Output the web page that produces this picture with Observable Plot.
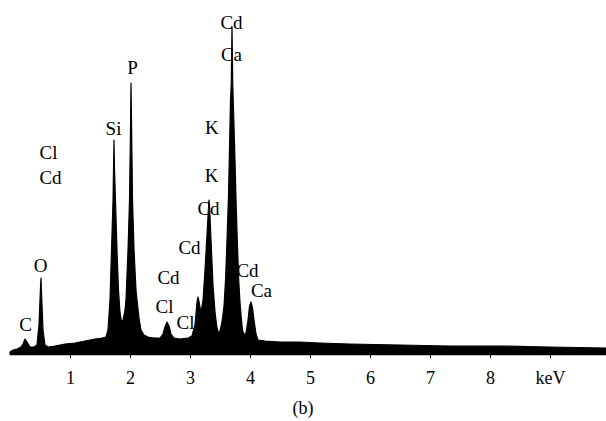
<!DOCTYPE html>
<html>
<head>
<meta charset="utf-8">
<script src="https://cdn.jsdelivr.net/npm/d3@7"></script>
<script src="https://cdn.jsdelivr.net/npm/@observablehq/plot@0.6"></script>
<style>
  html, body { margin: 0; padding: 0; background: #fff; }
  #chart { width: 606px; }
  #caption { width: 606px; height: 29px; line-height: 32px; text-align: center;
             font-family: "Liberation Serif", serif; font-size: 18px; color: #000; }
</style>
</head>
<body>
<div id="chart"></div>
<div id="caption">(b)</div>
<script>
// EDS spectrum: energy (keV) and counts (arbitrary units)
const energy = [0.000,0.050,0.117,0.183,0.217,0.250,0.283,0.333,0.400,0.450,0.483,0.508,0.517,0.525,0.550,0.583,0.633,0.750,0.917,1.083,1.250,1.417,1.533,
  1.600,1.633,1.667,1.692,1.717,1.728,1.733,1.742,1.758,1.783,1.808,1.833,1.858,
  1.883,1.917,1.933,1.967,1.992,2.008,2.017,2.025,2.042,2.067,2.100,2.117,2.150,2.183,2.233,2.300,2.400,2.500,
  2.550,2.583,2.617,2.650,2.683,2.733,2.833,2.967,3.033,3.083,3.117,3.133,3.158,3.183,
  3.217,3.250,3.283,3.308,3.317,3.328,3.350,3.383,3.417,3.450,3.475,
  3.500,3.533,3.567,3.592,3.617,3.642,3.658,3.675,3.688,3.700,3.712,3.728,3.750,3.767,3.788,3.812,3.833,3.855,3.875,3.900,
  3.933,3.967,3.992,4.017,4.042,4.067,4.100,4.133,4.250,4.500,4.833,5.167,5.667,6.500,7.333,8.167,9.000,9.933];
const counts = [20,40,50,70,100,150,120,70,70,90,290,660,760,620,240,90,70,80,100,110,130,150,160,
  170,240,540,1040,1540,1940,2140,1840,1540,1040,640,420,320,
  340,440,540,1040,1540,2240,2710,2340,1540,1040,640,540,360,240,190,170,160,160,
  200,270,320,280,200,160,150,160,180,290,520,570,500,410,
  540,840,1190,1460,1540,1460,1140,690,420,260,210,
  230,320,480,740,1140,1590,2040,2540,2710,3270,2710,2390,1940,1540,1140,740,520,360,240,190,
  210,340,480,520,460,340,200,140,130,120,120,110,100,90,80,80,70,60];

// Peak annotations
const peakLabels = ["C","O","Cl","Cd","Si","P","Cl","Cl","Cd","Cd","Cd","K","K","Cd","Ca","Cd","Ca"];
const labelEnergy = [0.250,0.500,0.633,0.667,1.717,2.033,2.567,2.917,2.633,2.983,3.300,3.350,3.358,3.683,3.683,3.950,4.183];
const labelCounts = [300,890,2020,1770,2260,2870,480,320,770,1070,1460,1790,2270,3320,3000,840,640];

// Axis ticks
const tickValues = [1,2,3,4,5,6,7,8,9];
const tickLabels = ["1","2","3","4","5","6","7","8","keV"];

const spectrum = energy.map((e, i) => ({e, c: counts[i]}));
const labels = peakLabels.map((t, i) => ({t, e: labelEnergy[i], c: labelCounts[i]}));

const plot = Plot.plot({
  width: 606,
  height: 392,
  marginLeft: 10,
  marginRight: 0,
  marginTop: 4,
  marginBottom: 38,
  style: {background: "#fff", color: "#000", fontFamily: "Liberation Serif, serif"},
  x: {domain: [0, 596/60], axis: null},
  y: {domain: [0, 3500], axis: null},
  marks: [
    Plot.text(labels, {x: "e", y: "c", text: "t", fontSize: 19, fill: "#000",
      fontFamily: "Liberation Serif, serif", style: "letter-spacing:1px"}),
    Plot.areaY(spectrum, {x: "e", y: "c", fill: "#000", stroke: "#000", strokeWidth: 1.2, curve: "linear"}),
    Plot.ruleY([0], {stroke: "#000", strokeWidth: 1.5}),
    Plot.axisX({ticks: tickValues, tickSize: 4, tickPadding: 13, fontSize: 18, label: null,
      tickFormat: d => tickLabels[tickValues.indexOf(d)], fontFamily: "Liberation Serif, serif",
      style: "letter-spacing:1px"})
  ]
});
document.getElementById("chart").appendChild(plot);
</script>
</body>
</html>
